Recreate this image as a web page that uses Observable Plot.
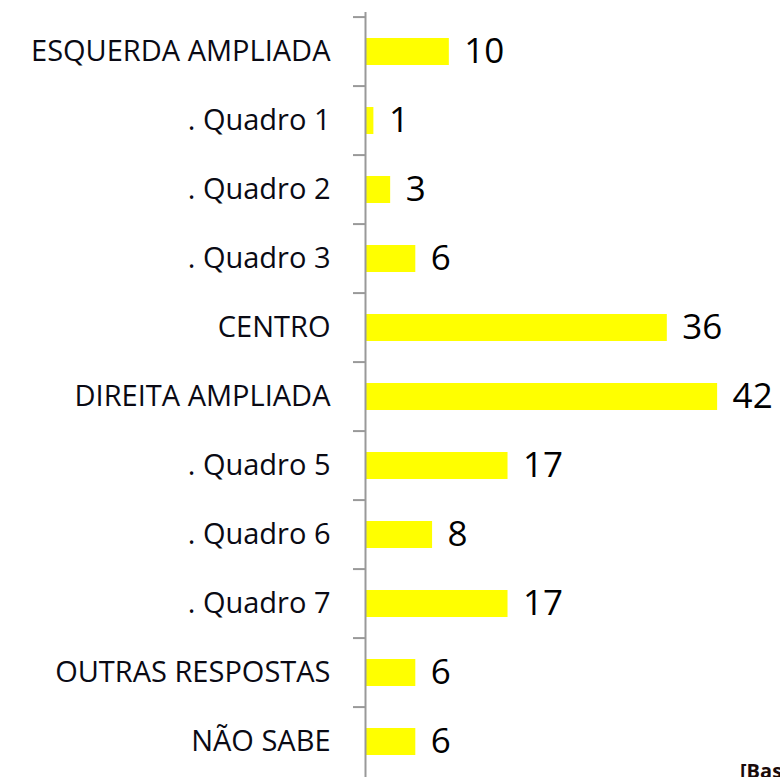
<!DOCTYPE html>
<html>
<head>
<meta charset="utf-8">
<script src="https://cdn.jsdelivr.net/npm/d3@7"></script>
<script src="https://cdn.jsdelivr.net/npm/@observablehq/plot@0.6"></script>
<style>
  html, body { margin: 0; padding: 0; background: #fff; overflow: hidden; }
  #wrap { position: relative; width: 780px; height: 777px; overflow: hidden; }
  #note { position: absolute; left: 740px; top: 757px; font: bold 20px "Open Sans", sans-serif; color: #1a0a0a; white-space: nowrap; }
</style>
</head>
<body>
<div id="wrap"><div id="chart"></div><div id="note">[Base: total da amostra]</div></div>
<script>
const categories = ["ESQUERDA AMPLIADA", ". Quadro 1", ". Quadro 2", ". Quadro 3", "CENTRO", "DIREITA AMPLIADA", ". Quadro 5", ". Quadro 6", ". Quadro 7", "OUTRAS RESPOSTAS", "NÃO SABE"];
const values = [10, 1, 3, 6, 36, 42, 17, 8, 17, 6, 6];

const data = categories.map((c, i) => ({category: c, value: values[i]}));
const step = 768 / categories.length;

const chart = Plot.plot({
  width: 780,
  height: 780,
  marginLeft: 365,
  marginRight: 0,
  marginTop: 12,
  marginBottom: 0,
  style: {fontFamily: "'Open Sans', sans-serif", background: "#fff"},
  x: {domain: [0, 49.5], axis: null},
  y: {domain: categories, paddingInner: 0.61, paddingOuter: 0.305, axis: null},
  marks: [
    Plot.axisY({tickSize: 0, tickPadding: 35, fontSize: 29, fontWeight: 500, fill: "#0a0a14", label: null, tickFormat: d => d}),
    Plot.axisY({tickSize: 12, tickFormat: null, label: null, dy: -step / 2, stroke: "#999", strokeWidth: 2}),
    Plot.barX(data, {x: "value", y: "category", fill: "#ffff00", insetLeft: 1}),
    Plot.ruleX([0], {stroke: "#999", strokeWidth: 2}),
    Plot.text(data, {x: "value", y: "category", text: d => String(d.value), textAnchor: "start", dx: 15, fontSize: 35, fontWeight: 500, fill: "#000"})
  ]
});
document.getElementById("chart").appendChild(chart);
</script>
</body>
</html>
